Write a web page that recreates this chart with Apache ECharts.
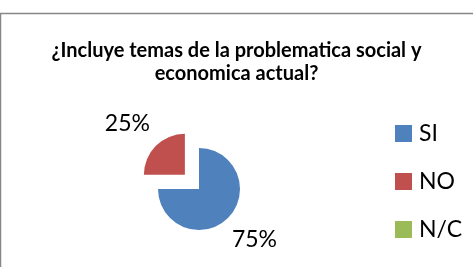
<!DOCTYPE html>
<html>
<head>
<meta charset="utf-8">
<script src="https://cdn.jsdelivr.net/npm/echarts@6/dist/echarts.min.js"></script>
<style>
  html, body { margin: 0; padding: 0; background: #fff; }
  #chart { width: 473px; height: 267px; }
</style>
</head>
<body>
<div id="chart"></div>
<script>
  // datos
  var categories = ['SI', 'NO', 'N/C'];
  var values = [75, 25, 0];
  var colors = ['#4F81BD', '#C0504D', '#9BBB59'];

  var chart = echarts.init(document.getElementById('chart'));

  var pieData = categories.map(function (name, i) {
    var item = { name: name, value: values[i] };
    if (name === 'NO') item.selected = true;
    if (values[i] === 0) item.label = { show: false };
    return item;
  });

  // pequeños ajustes de las etiquetas para parecerse al original
  var labelShift = { SI: [-11, 12], NO: [9, -12] };

  chart.setOption({
    backgroundColor: '#ffffff',
    animation: false,
    color: colors,
    title: {
      text: '¿Incluye temas de la problematica social y\neconomica actual?',
      left: 'center',
      top: 34,
      textStyle: {
        fontFamily: 'Lato',
        fontWeight: 'bold',
        fontSize: 20,
        lineHeight: 23,
        color: '#000'
      }
    },
    legend: {
      orient: 'vertical',
      left: 395,
      top: 122,
      padding: 0,
      itemWidth: 17,
      itemHeight: 17,
      itemGap: 25,
      icon: 'rect',
      selectedMode: false,
      data: categories,
      textStyle: {
        fontFamily: 'Lato',
        fontSize: 23,
        color: '#000',
        padding: [0, 0, 0, 2]
      }
    },
    graphic: [{
      type: 'rect',
      shape: { x: 0.5, y: 13.5, width: 500, height: 300 },
      style: { fill: 'none', stroke: '#878787', lineWidth: 1.5 },
      silent: true
    }],
    series: [{
      type: 'pie',
      center: [199, 189],
      radius: [0, 41],
      startAngle: 90,
      clockwise: true,
      selectedMode: 'single',
      selectedOffset: 20,
      avoidLabelOverlap: false,
      label: {
        show: true,
        position: 'outside',
        formatter: '{d}%',
        fontFamily: 'Lato',
        fontSize: 23,
        color: '#000'
      },
      labelLine: { show: false, length: 14, length2: 0 },
      labelLayout: function (p) {
        var s = labelShift[categories[p.dataIndex]] || [0, 0];
        return { dx: s[0], dy: s[1] };
      },
      emphasis: { disabled: true },
      itemStyle: { borderWidth: 0 },
      data: pieData
    }]
  });
</script>
</body>
</html>
